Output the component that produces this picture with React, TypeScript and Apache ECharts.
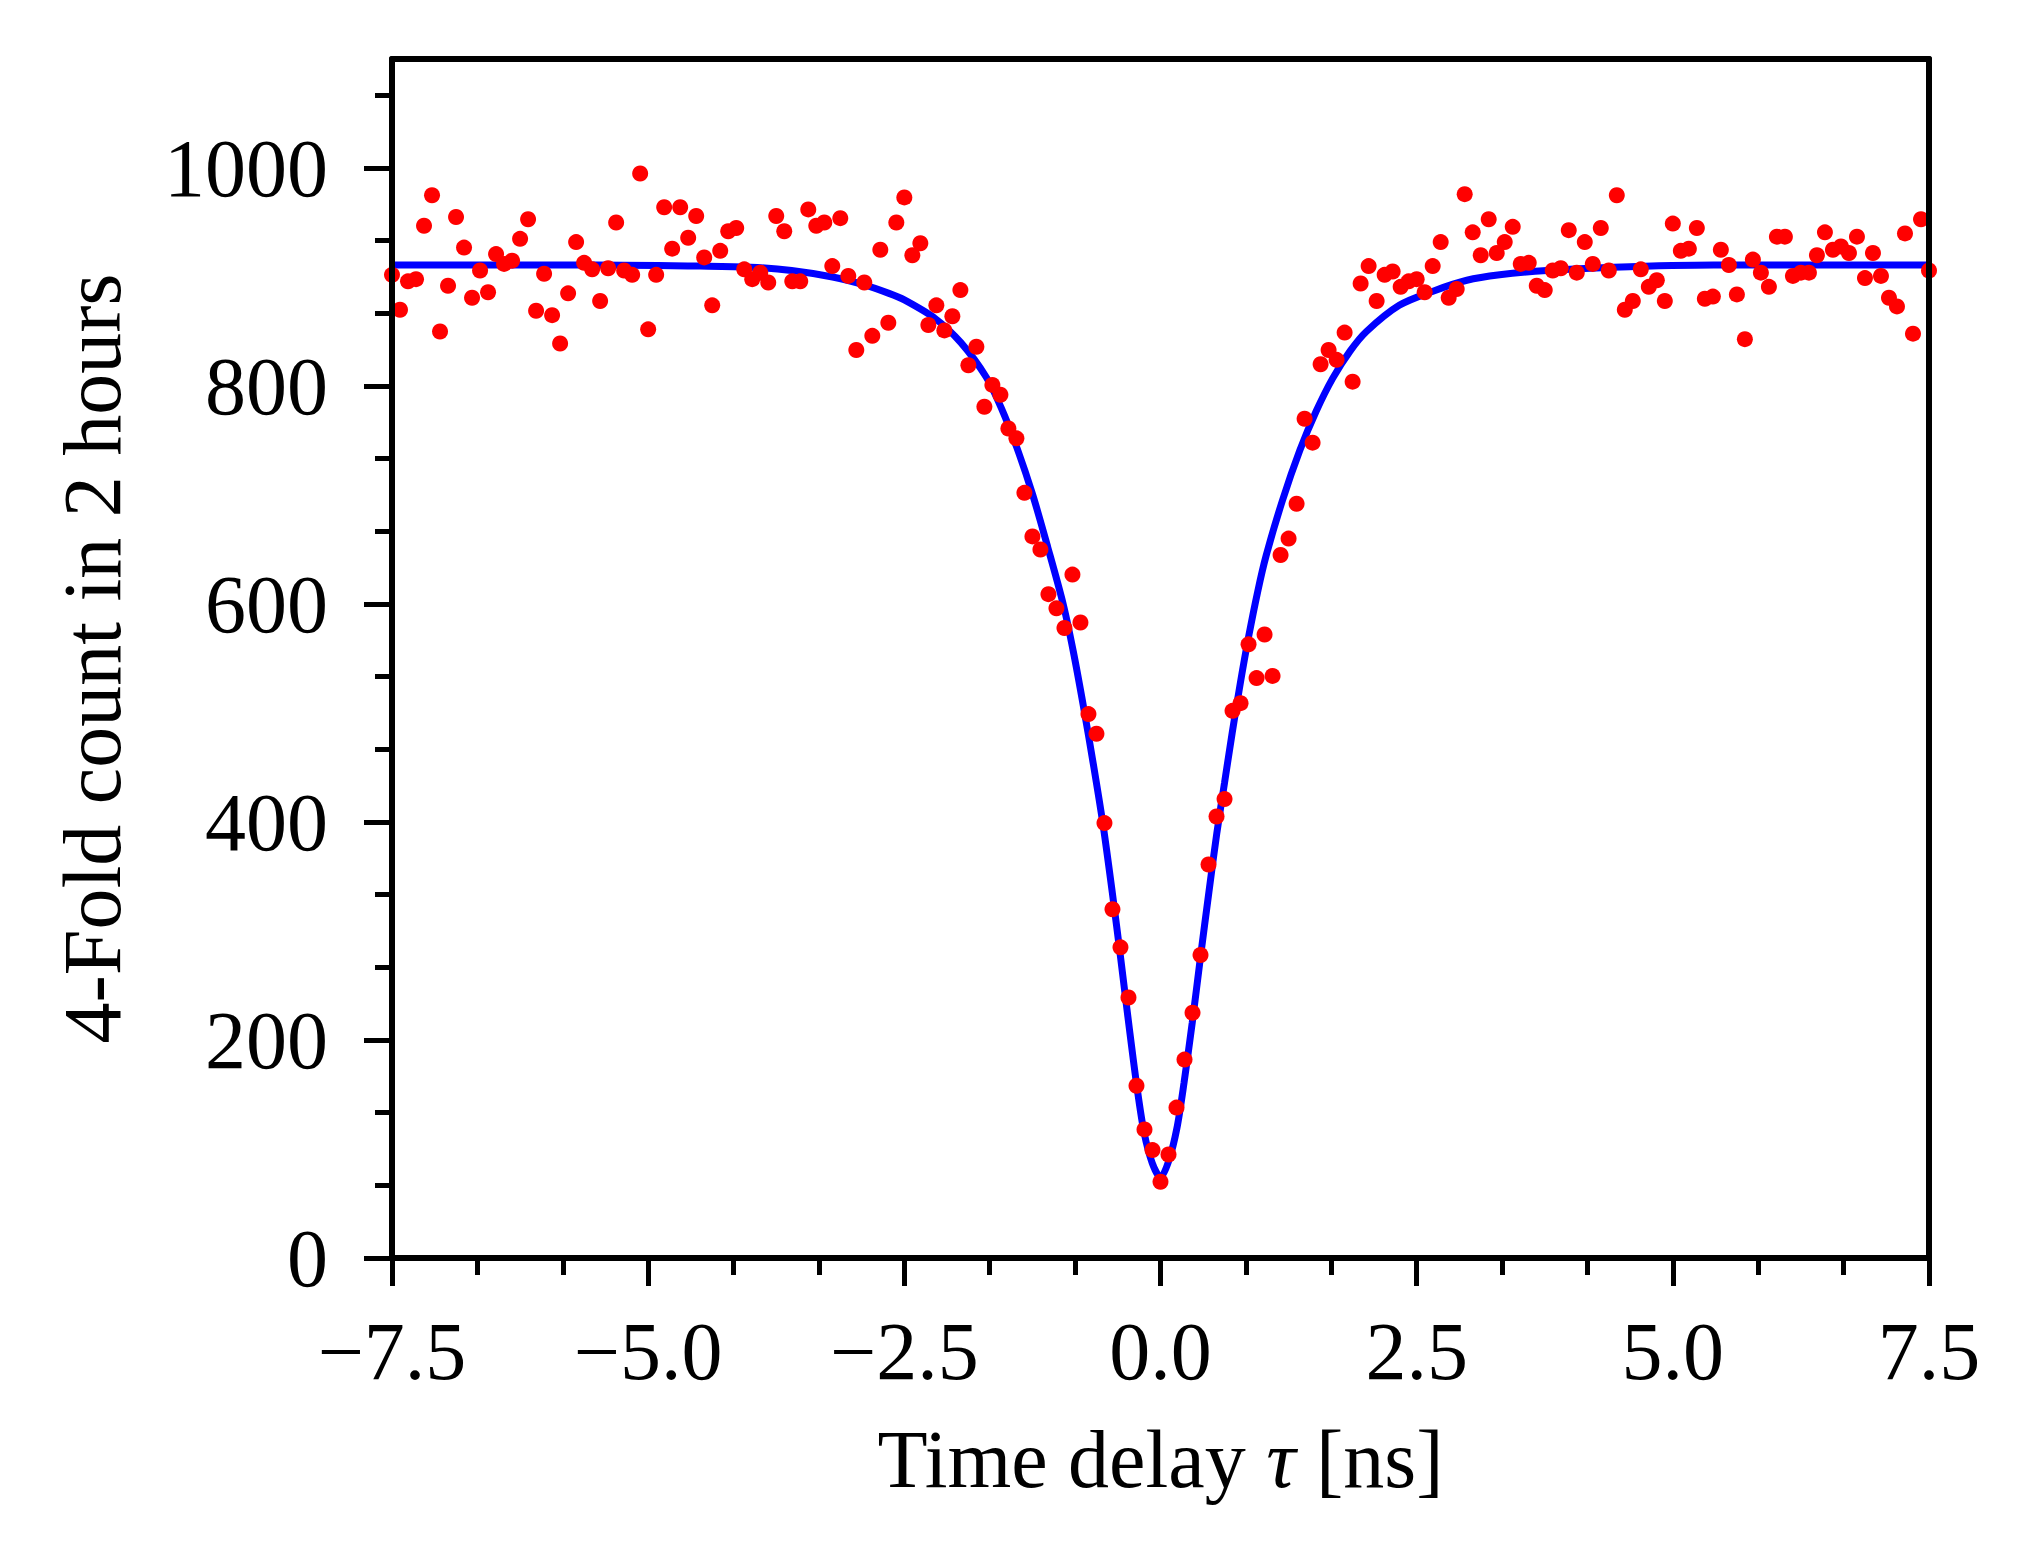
import React, { useEffect, useRef } from "react";
import * as echarts from "echarts";

// Time bins: first bin and bin width (ns)
const T_START = -7.5;
const T_STEP = 0.078125;

// 4-fold counts per time bin (193 bins from -7.5 to 7.5 ns)
const counts = [
  902, 870, 896, 898, 947, 975, 850, 892, 955, 927, 881, 906, 886, 921, 912, 915,
  935, 953, 869, 903, 865, 839, 885, 932, 913, 907, 878, 908, 950, 906, 902, 995,
  852, 902, 964, 926, 964, 936, 956, 918, 874, 924, 942, 945, 907, 898, 904, 895,
  956, 942, 896, 896, 962, 947, 950, 910, 954, 901, 833, 895, 846, 925, 858,
  950, 973, 920, 931, 856, 874, 851, 864, 888, 819, 836, 781, 801, 792, 761, 752,
  702, 662, 650, 609, 596, 578, 627, 583, 499, 481, 399, 320, 285, 239, 158, 118, 99,
  70,
  95, 138, 182, 225, 278, 361, 405, 421, 502, 509, 563, 532, 572, 534, 645, 660, 692, 770, 748,
  820, 833, 824, 849, 804, 894, 910, 878, 902, 905, 891, 896, 898, 886, 910, 932, 881, 889, 976, 941, 920, 953, 922,
  932, 946, 912, 913, 892, 888, 906, 908, 943, 904, 932, 912, 945, 906, 975, 870, 878, 907, 891, 897, 878, 949, 924, 926, 945, 880, 882, 925,
  911, 884, 843, 916, 904, 891, 937, 937, 901, 904, 904, 920, 941, 925, 928, 922, 937, 899, 922, 901, 881, 873, 940, 848, 953, 906,
];

// Fit curve, sampled from the figure
const fitDelay = [
  -7.5, -6.5, -5.5, -4.5, -4.0, -3.6, -3.2, -2.9, -2.65, -2.5, -2.2, -1.95, -1.7, -1.55, -1.4, -1.25,
  -1.1, -0.95, -0.85, -0.75, -0.65, -0.56, -0.47, -0.39, -0.31, -0.23, -0.16, -0.08, 0,
  0.08, 0.16, 0.23, 0.31, 0.39, 0.47, 0.55, 0.625, 0.7, 0.78, 0.86, 0.95, 1.03, 1.19, 1.36, 1.52,
  1.68, 1.85, 2.01, 2.33, 2.66, 2.99, 3.31, 3.77, 4.42, 5.4, 6.5, 7.5,
];
const fitCount = [
  911, 911, 911, 910, 909, 906, 900, 893, 885, 879, 862, 840, 808, 779, 743, 701,
  652, 600, 556, 505, 450, 397, 335, 276, 215, 157, 115, 87, 74,
  89, 119, 161, 216, 276, 334, 390, 436, 482, 528, 570, 612, 644, 695, 741, 777,
  807, 832, 850, 874, 887, 897, 902, 906, 909, 911, 911, 911,
];

const yMajorTicks = [0, 200, 400, 600, 800, 1000];
const yMinorTicks = [66.67, 133.33, 266.67, 333.33, 466.67, 533.33, 666.67, 733.33, 866.67, 933.33, 1066.67];

const FONT = "'Liberation Serif', 'Times New Roman', serif";

export default function App() {
  const ref = useRef<HTMLDivElement>(null);

  useEffect(() => {
    if (!ref.current) return;
    const chart = echarts.init(ref.current, null, { renderer: "svg" });
    const black = "#000";
    const fmtX = (v: number) => {
      const s = Math.abs(v).toFixed(1);
      return v < 0 ? "\u2212" + s : s;
    };
    const fmtY = (v: number) => String(Math.round(v));
    const spine = { show: true, onZero: false, lineStyle: { color: black, width: 6 } };
    const noSplit = { show: false };

    chart.setOption({
      animation: false,
      backgroundColor: "#ffffff",
      grid: { left: 384, top: 51, right: 105, bottom: 300, containLabel: false },
      xAxis: [
        {
          type: "value",
          min: -7.5,
          max: 7.5,
          interval: 2.5,
          position: "bottom",
          z: 10,
          axisLine: spine,
          axisTick: { show: true, length: 28, lineStyle: { color: black, width: 5 } },
          minorTick: { show: true, splitNumber: 3, length: 17, lineStyle: { color: black, width: 5 } },
          splitLine: noSplit,
          minorSplitLine: noSplit,
          axisLabel: { formatter: fmtX, margin: 52, fontSize: 82, fontFamily: FONT, color: black },
          name: "{a|Time delay }{b|\u03c4}{a| [ns]}",
          nameLocation: "middle",
          nameGap: 160,
          nameTextStyle: {
            fontSize: 82,
            fontFamily: FONT,
            color: black,
            rich: {
              a: { fontSize: 82, fontFamily: FONT, color: black },
              b: { fontSize: 82, fontFamily: FONT, fontStyle: "italic", color: black },
            },
          },
        },
        {
          type: "value",
          min: -7.5,
          max: 7.5,
          position: "top",
          z: 10,
          axisLine: spine,
          axisTick: { show: false },
          axisLabel: { show: false },
          splitLine: noSplit,
        },
      ],
      yAxis: [
        {
          type: "value",
          min: 0,
          max: 1100,
          interval: 200,
          position: "left",
          z: 10,
          axisLine: spine,
          axisTick: { show: true, customValues: yMajorTicks, length: 28, lineStyle: { color: black, width: 5 } },
          axisLabel: { customValues: yMajorTicks, formatter: fmtY, margin: 64, fontSize: 82, fontFamily: FONT, color: black },
          splitLine: noSplit,
          name: "4-Fold count in 2 hours",
          nameLocation: "middle",
          nameGap: 259,
          nameTextStyle: { fontSize: 82, fontFamily: FONT, color: black },
        },
        {
          type: "value",
          min: 0,
          max: 1100,
          position: "left",
          z: 10,
          axisLine: { show: false, onZero: false },
          axisTick: { show: true, customValues: yMinorTicks, length: 17, lineStyle: { color: black, width: 5 } },
          axisLabel: { show: false },
          splitLine: noSplit,
        },
        {
          type: "value",
          min: 0,
          max: 1100,
          position: "right",
          z: 10,
          axisLine: spine,
          axisTick: { show: false },
          axisLabel: { show: false },
          splitLine: noSplit,
        },
      ],
      series: [
        {
          type: "line",
          xAxisIndex: 0,
          yAxisIndex: 0,
          data: fitDelay.map((t, i) => [t, fitCount[i]]),
          showSymbol: false,
          symbol: "none",
          smooth: 0.3,
          lineStyle: { color: "#0000ff", width: 7 },
          z: 2,
        },
        {
          type: "scatter",
          xAxisIndex: 0,
          yAxisIndex: 0,
          data: counts.map((c, i) => [T_START + i * T_STEP, c]),
          symbolSize: 16,
          itemStyle: { color: "#ff0000", opacity: 1 },
          z: 3,
        },
      ],
    });
    return () => chart.dispose();
  }, []);

  return <div ref={ref} style={{ width: 2026, height: 1550 }} />;
}
